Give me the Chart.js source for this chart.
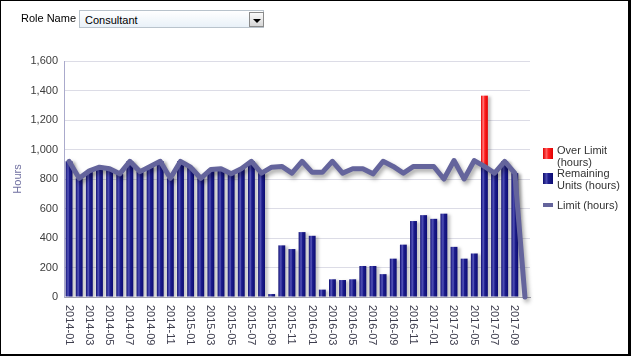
<!DOCTYPE html>
<html><head><meta charset="utf-8">
<script src="https://cdn.jsdelivr.net/npm/chart.js@4.4.1/dist/chart.umd.min.js"></script>
<style>
html,body{margin:0;padding:0;background:#fff;width:631px;height:356px;overflow:hidden;font-family:"Liberation Sans",Arial,sans-serif;}
#frame{position:absolute;left:0;top:0;width:627px;height:353px;border-left:1px solid #000;border-top:1px solid #000;border-right:3px solid #000;border-bottom:2px solid #000;pointer-events:none;z-index:5;}
#chart{position:absolute;left:0;top:0;}
#roleLbl{position:absolute;left:21px;top:12px;font-size:11px;line-height:13px;color:#000;}
#sel{position:absolute;left:79px;top:10px;width:185px;height:18px;border:1px solid #b9c3cc;background:linear-gradient(#ffffff,#e9f1f8);font-size:11px;line-height:18px;box-sizing:border-box;padding-left:5px;color:#000;}
#btn{position:absolute;left:249px;top:12px;width:15px;height:15px;box-sizing:border-box;border:1px solid #8a8a8a;background:linear-gradient(#fbfbfb,#d6d6d6);}
#btn:after{content:"";position:absolute;left:3px;top:6px;border-left:4px solid transparent;border-right:4px solid transparent;border-top:4px solid #000;}
.lg{position:absolute;left:557px;font-size:11px;line-height:12px;color:#333;width:72px;}
.sw{position:absolute;left:543px;width:10px;}
</style></head>
<body>
<canvas id="chart" width="631" height="356"></canvas>
<div id="roleLbl">Role Name</div>
<div id="sel">Consultant</div>
<div id="btn"></div>
<div id="legend"></div>
<div id="frame"></div>
<script>
const months = ["2014-01","2014-02","2014-03","2014-04","2014-05","2014-06","2014-07","2014-08","2014-09","2014-10","2014-11","2014-12",
"2015-01","2015-02","2015-03","2015-04","2015-05","2015-06","2015-07","2015-08","2015-09","2015-10","2015-11","2015-12",
"2016-01","2016-02","2016-03","2016-04","2016-05","2016-06","2016-07","2016-08","2016-09","2016-10","2016-11","2016-12",
"2017-01","2017-02","2017-03","2017-04","2017-05","2017-06","2017-07","2017-08","2017-09","2017-10"];
const remainingUnits = [920,805,855,880,870,835,920,850,885,920,805,920,880,805,865,870,835,870,920,840,
20,350,325,440,415,50,120,115,120,210,210,155,260,355,515,555,530,565,340,260,295,885,840,920,840,null];
const overLimit = [null,null,null,null,null,null,null,null,null,null,null,null,null,null,null,null,null,null,null,null,
null,null,null,null,null,null,null,null,null,null,null,null,null,null,null,null,null,null,null,null,null,480,null,null,null,null];
const limitHours = [920,805,855,880,870,835,920,850,885,920,805,920,880,805,865,870,835,870,920,840,
880,885,840,920,845,845,920,840,870,870,835,920,885,840,885,885,885,800,925,800,925,885,840,920,840,0];
const yTickValues = [0,200,400,600,800,1000,1200,1400,1600];
const seriesNames = ["Over Limit (hours)","Remaining Units (hours)","Limit (hours)"];

const BAR_PCT = 0.68;
const blueStops = [[0,'#0b0b6c'],[0.22,'#3c3ca6'],[0.38,'#5252b4'],[0.55,'#1d1d8e'],[1,'#0c0c72']];
const redStops = [[0,'#d80000'],[0.22,'#ff5050'],[0.38,'#ff7070'],[0.55,'#ff2020'],[1,'#e00000']];
function barGrad(stops){
  return (c)=>{
    const ch=c.chart; const xs=ch.scales && ch.scales.x;
    if(!xs || c.dataIndex===undefined || !xs.width) return stops[3][1];
    const x=xs.getPixelForValue(c.dataIndex);
    const w=(xs.width/months.length)*BAR_PCT;
    const g=ch.ctx.createLinearGradient(x-w/2,0,x+w/2,0);
    stops.forEach(s=>g.addColorStop(s[0],s[1]));
    return g;
  };
}

// HTML legend
(function(){
  const lg=document.getElementById('legend');
  const items=[
    {top:143.5, sw:{top:148,h:11,bg:'linear-gradient(90deg,#e00000,#ff6060 35%,#ff2020 55%,#e00000)'}},
    {top:167, sw:{top:173,h:11,bg:'linear-gradient(90deg,#0b0b6c,#4a4ab0 35%,#1d1d8e 55%,#0c0c72)'}},
    {top:199, sw:{top:203,h:4,bg:'#64649c'}}
  ];
  items.forEach((it,i)=>{
    const s=document.createElement('div'); s.className='sw';
    s.style.top=it.sw.top+'px'; s.style.height=it.sw.h+'px'; s.style.background=it.sw.bg;
    lg.appendChild(s);
    const t=document.createElement('div'); t.className='lg'; t.style.top=it.top+'px';
    t.textContent=seriesNames[i]; lg.appendChild(t);
  });
})();

const shadowPlugin={
  id:'shadows',
  beforeDatasetDraw(chart,args){
    const ctx=chart.ctx; ctx.save();
    const ds=chart.data.datasets[args.index];
    if(ds.type==='line'){ctx.shadowColor='rgba(0,0,0,0.35)';ctx.shadowBlur=4;ctx.shadowOffsetX=2;ctx.shadowOffsetY=3;}
    else{ctx.shadowColor='rgba(0,0,0,0.22)';ctx.shadowBlur=3;ctx.shadowOffsetX=3;ctx.shadowOffsetY=1;}
  },
  afterDatasetDraw(chart){chart.ctx.restore();}
};
const xLabelPlugin={
  id:'xlabels',
  afterDraw(chart){
    const xs=chart.scales.x, ctx=chart.ctx;
    ctx.save();
    ctx.font='11px "Liberation Sans", Arial, sans-serif';
    ctx.fillStyle='#3e3e4e';
    ctx.textAlign='left'; ctx.textBaseline='middle';
    months.forEach((m,i)=>{
      if(i%2!==0) return;
      const x=xs.getPixelForValue(i);
      ctx.save(); ctx.translate(x-0.5, xs.top+8); ctx.rotate(Math.PI/2);
      ctx.fillText(m,0,0); ctx.restore();
    });
    ctx.restore();
  }
};

new Chart(document.getElementById('chart'),{
  data:{
    labels:months,
    datasets:[
      {type:'bar',label:seriesNames[1],data:remainingUnits,backgroundColor:barGrad(blueStops),borderWidth:0,barPercentage:BAR_PCT,categoryPercentage:1,stack:'bars',order:1},
      {type:'bar',label:seriesNames[0],data:overLimit,backgroundColor:barGrad(redStops),borderWidth:0,barPercentage:BAR_PCT,categoryPercentage:1,stack:'bars',order:1},
      {type:'line',label:seriesNames[2],data:limitHours,borderColor:'#64649c',borderWidth:5,pointRadius:0,pointHoverRadius:0,tension:0,fill:false,stack:'limit',order:0,clip:false,borderJoinStyle:'round',borderCapStyle:'round'}
    ]
  },
  options:{
    responsive:false,animation:false,devicePixelRatio:1,
    layout:{padding:{top:61,left:0,right:101,bottom:0}},
    plugins:{legend:{display:false},tooltip:{enabled:false}},
    scales:{
      x:{type:'category',offset:true,stacked:true,grid:{display:false,drawTicks:false},
         border:{display:true,color:'#a2a2b0',width:1},ticks:{display:false},
         afterFit:(s)=>{s.height=59;}},
      y:{min:0,max:1600,stacked:true,
         afterBuildTicks:(s)=>{s.ticks=yTickValues.map(v=>({value:v}));},
         grid:{color:'#dcdce6',drawTicks:false},
         border:{display:true,color:'#aaaacc',width:1},
         ticks:{padding:6,color:'#3c3c3c',font:{family:'"Liberation Sans", Arial, sans-serif',size:11},
           callback:(v)=>v.toLocaleString('en-US')},
         title:{display:true,text:'Hours',color:'#6f6fa0',font:{family:'"Liberation Sans", Arial, sans-serif',size:11},padding:{top:11,bottom:0}},
         afterFit:(s)=>{s.width=64;}}
    }
  },
  plugins:[shadowPlugin,xLabelPlugin]
});
</script>
</body></html>
